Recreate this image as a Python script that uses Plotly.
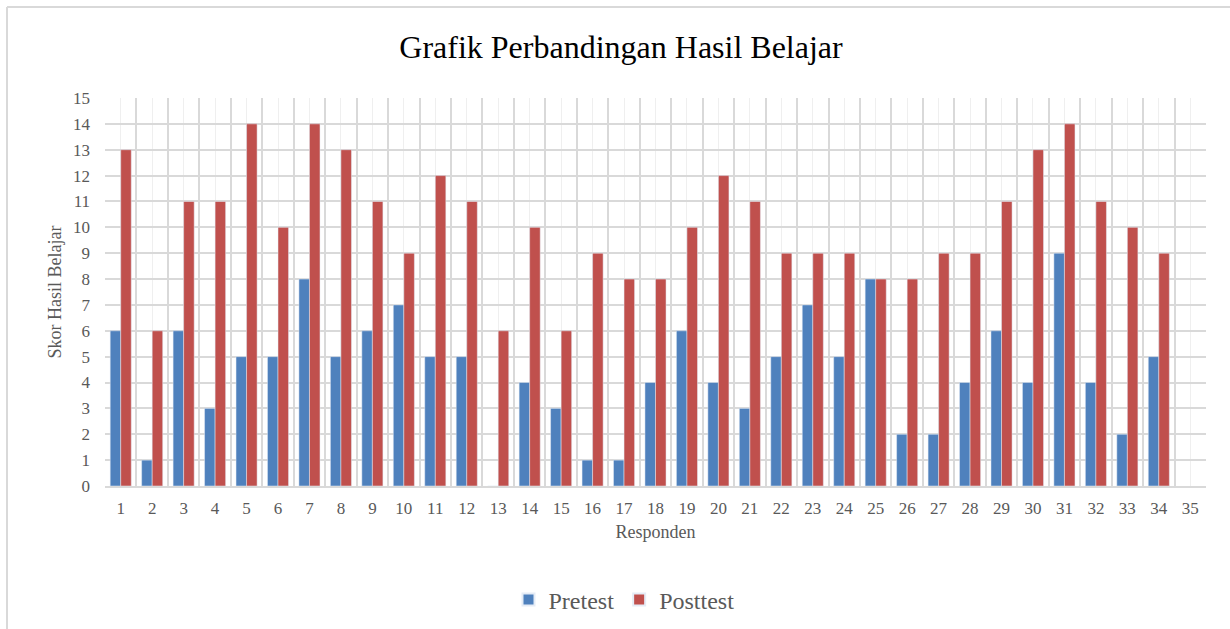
import plotly.graph_objects as go

responden = list(range(1, 36))
pretest = [6, 1, 6, 3, 5, 5, 8, 5, 6, 7, 5, 5, 0, 4, 3, 1, 1, 4, 6, 4, 3, 5, 7, 5, 8, 2, 2, 4, 6, 4, 9, 4, 2, 5, None]
posttest = [13, 6, 11, 11, 14, 10, 14, 13, 11, 9, 12, 11, 6, 10, 6, 9, 8, 8, 10, 12, 11, 9, 9, 9, 8, 8, 9, 9, 11, 13, 14, 11, 10, 9, None]
y_ticks = list(range(0, 16))

FONT = "Liberation Serif, Times New Roman, serif"
GRID = "#d9d9d9"

L, R, T, B = 105, 24, 98, 143
W, H = 1230, 629
pw, ph = W - L - R, H - T - B

def px_x(p):
    return (p - L) / pw

def px_y(p):
    return (H - B - p) / ph

fig = go.Figure()
fig.add_trace(go.Bar(x=responden, y=pretest, name="Pretest", marker_color="#4F81BD"))
fig.add_trace(go.Bar(x=responden, y=posttest, name="Posttest", marker_color="#C0504D"))
# invisible trace for boundary gridlines axis
fig.add_trace(go.Scatter(x=[0.5], y=[0], xaxis="x2", mode="markers",
                         marker=dict(opacity=0), showlegend=False, hoverinfo="skip"))

fig.update_layout(
    width=W, height=H,
    margin=dict(l=L, r=R, t=T, b=B, autoexpand=False),
    paper_bgcolor="white", plot_bgcolor="white",
    barmode="group", bargap=0.33, bargroupgap=0,
    font=dict(family=FONT, color="#595959"),
    title=dict(text="Grafik Perbandingan Hasil Belajar", x=621 / W, xref="container",
               xanchor="center", y=1 - 47 / H, yref="container", yanchor="middle",
               font=dict(family=FONT, size=32, color="#000000")),
    xaxis=dict(range=[0.5, 35.5], tickmode="array", tickvals=responden,
               ticktext=[str(r) for r in responden], automargin=False,
               showgrid=True, gridcolor="#efefef", gridwidth=1,
               zeroline=False, showline=True, linecolor=GRID, linewidth=2,
               ticks="", tickfont=dict(size=17, color="#595959"),
               ticklabelstandoff=6,
               title=dict(text="Responden", font=dict(size=18, color="#595959"), standoff=8)),
    xaxis2=dict(range=[0.5, 35.5], overlaying="x", tickmode="linear", tick0=0.5, dtick=1,
                showgrid=True, gridcolor=GRID, gridwidth=2, showticklabels=False,
                zeroline=False, showline=False, ticks="", automargin=False),
    yaxis=dict(range=[0, 15], tickmode="array", tickvals=y_ticks, automargin=False,
               showgrid=True, gridcolor=GRID, gridwidth=2, zeroline=False,
               showline=False, ticks="", tickfont=dict(size=17, color="#595959"),
               ticklabelstandoff=14,
               title=dict(text="Skor Hasil Belajar", font=dict(size=18, color="#595959"), standoff=6)),
    legend=dict(orientation="h", x=px_x(624), xanchor="center", y=px_y(600), yanchor="middle",
                font=dict(size=24, color="#595959"), itemsizing="constant", traceorder="normal"),
    shapes=[
        dict(type="line", xref="paper", yref="paper", x0=px_x(7), x1=px_x(7),
             y0=px_y(7), y1=px_y(660), line=dict(color=GRID, width=2)),
        dict(type="line", xref="paper", yref="paper", x0=px_x(7), x1=px_x(1260),
             y0=px_y(7), y1=px_y(7), line=dict(color=GRID, width=2)),
    ],
)

fig.write_html("out.html", config={"displayModeBar": False},
               post_script="document.body.style.margin='0';document.body.style.overflow='hidden';")
